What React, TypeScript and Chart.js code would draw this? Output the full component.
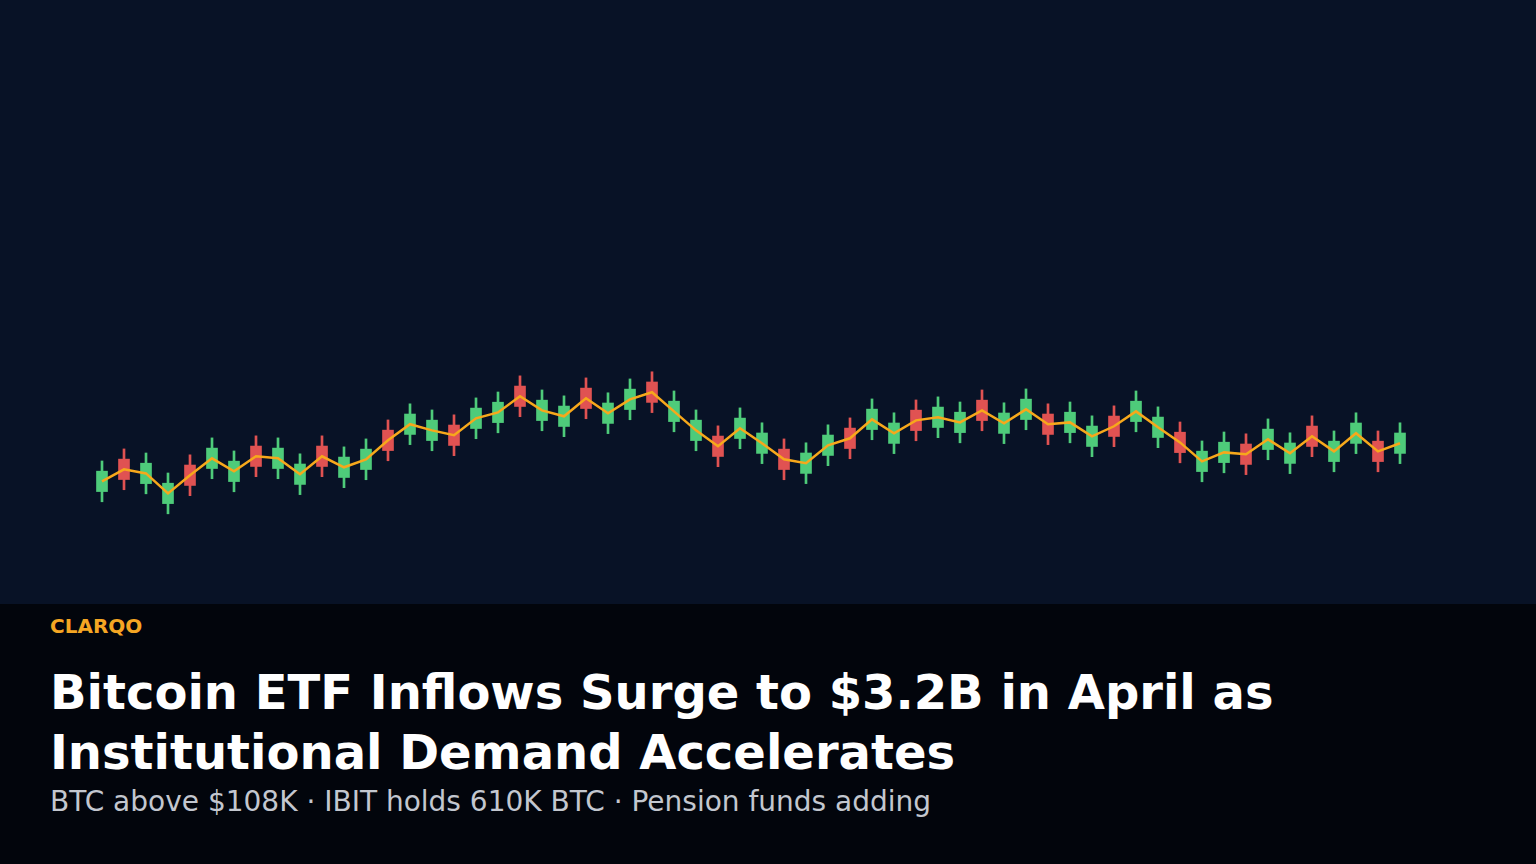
import React, { useEffect, useRef } from "react";
import { Chart, registerables } from "chart.js";

Chart.register(...registerables);

const days: string[] = Array.from({ length: 60 }, (_, i) => `D${i + 1}`);

const opens: number[] = [
  103510, 105100, 103900, 102920, 104810, 104640, 104000, 105740, 104640, 103860,
  105740, 104200, 104590, 106520, 106310, 106010, 106770, 106600, 106890, 108680,
  106990, 106700, 108580, 106850, 107530, 108880, 106940, 106010, 106230, 106110,
  105380, 105590, 104400, 105280, 106620, 106550, 105870, 107500, 106650, 106400,
  107990, 106360, 107040, 107310, 106400, 105720, 107210, 106940, 106160, 106420,
  104490, 104930, 105840, 105570, 104890, 106720, 104980, 105870, 105980, 105380,
];

const closes: number[] = [
  104510, 104100, 104900, 103920, 103810, 105640, 105000, 104740, 105640, 104860,
  104740, 105200, 105590, 105520, 107310, 107010, 105770, 107600, 107890, 107680,
  107990, 107700, 107580, 107850, 108530, 107880, 107940, 107010, 105230, 107110,
  106380, 104590, 105400, 106280, 105620, 107550, 106870, 106500, 107650, 107400,
  106990, 107360, 108040, 106310, 107400, 106720, 106210, 107940, 107160, 105420,
  105490, 105930, 104840, 106570, 105890, 105720, 105980, 106870, 104980, 106380,
];

const highs: number[] = [
  105010, 105600, 105400, 104420, 105310, 106140, 105500, 106240, 106140, 105360,
  106240, 105700, 106090, 107020, 107810, 107510, 107270, 108100, 108390, 109180,
  108490, 108200, 109080, 108350, 109030, 109380, 108440, 107510, 106730, 107610,
  106880, 106090, 105900, 106780, 107120, 108050, 107370, 108000, 108150, 107900,
  108490, 107860, 108540, 107810, 107900, 107220, 107710, 108440, 107660, 106920,
  105990, 106430, 106340, 107070, 106390, 107220, 106480, 107370, 106480, 106880,
];

const lows: number[] = [
  103010, 103600, 103400, 102420, 103310, 104140, 103500, 104240, 104140, 103360,
  104240, 103700, 104090, 105020, 105810, 105510, 105270, 106100, 106390, 107180,
  106490, 106200, 107080, 106350, 107030, 107380, 106440, 105510, 104730, 105610,
  104880, 104090, 103900, 104780, 105120, 106050, 105370, 106000, 106150, 105900,
  106490, 105860, 106540, 105810, 105900, 105220, 105710, 106440, 105660, 104920,
  103990, 104430, 104340, 105070, 104390, 105220, 104480, 105370, 104480, 104880,
];

const UP = "#4ecb7a";
const DOWN = "#e05252";
const LINE = "#f7a81b";

function CandleChart() {
  const ref = useRef<HTMLCanvasElement | null>(null);
  useEffect(() => {
    if (!ref.current) return;
    const colors = opens.map((o, i) => (closes[i] >= o ? UP : DOWN));
    const bodies = opens.map((o, i) => [o, closes[i]]);
    const wicks = lows.map((l, i) => [l, highs[i]]);
    const mids = opens.map((o, i) => (o + closes[i]) / 2);
    const chart = new Chart(ref.current, {
      type: "bar",
      data: {
        labels: days,
        datasets: [
          {
            type: "line",
            data: mids,
            borderColor: LINE,
            borderWidth: 2.5,
            pointRadius: 0,
            tension: 0,
            order: 0,
          } as any,
          {
            type: "bar",
            data: bodies as any,
            backgroundColor: colors,
            borderWidth: 0,
            barThickness: 11,
            grouped: false,
            order: 1,
          } as any,
          {
            type: "bar",
            data: wicks as any,
            backgroundColor: colors,
            borderWidth: 0,
            barThickness: 2,
            grouped: false,
            order: 2,
          } as any,
        ],
      },
      options: {
        animation: false,
        responsive: false,
        maintainAspectRatio: false,
        layout: { padding: { left: 91, right: 125, top: 0, bottom: 0 } },
        plugins: { legend: { display: false }, tooltip: { enabled: false } },
        scales: {
          x: { display: false, offset: true, grid: { display: false } },
          y: { display: false, min: 98000, max: 127600, grid: { display: false } },
        },
      },
    });
    return () => chart.destroy();
  }, []);
  return <canvas ref={ref} width={1536} height={604} style={{ display: "block", width: 1536, height: 604 }} />;
}

export default function App() {
  return (
    <div
      style={{
        position: "fixed",
        left: 0,
        top: 0,
        width: 1536,
        height: 864,
        overflow: "hidden",
        background: "#02050c",
        fontFamily: "'DejaVu Sans', sans-serif",
      }}
    >
      <div style={{ position: "absolute", left: 0, top: 0, width: 1536, height: 604, background: "#081226" }}>
        <CandleChart />
      </div>
      <div
        style={{
          position: "absolute",
          left: 50,
          top: 614,
          fontSize: 20,
          lineHeight: "24px",
          fontWeight: 700,
          color: "#f5a623",
          whiteSpace: "nowrap",
        }}
      >
        CLARQO
      </div>
      <div
        style={{
          position: "absolute",
          left: 50,
          top: 662,
          width: 1436,
          fontSize: 48,
          lineHeight: "60px",
          fontWeight: 700,
          color: "#ffffff",
        }}
      >
        Bitcoin ETF Inflows Surge to $3.2B in April as Institutional Demand Accelerates
      </div>
      <div
        style={{
          position: "absolute",
          left: 50,
          top: 786,
          fontSize: 28,
          lineHeight: "32px",
          color: "#c3c7cf",
          whiteSpace: "nowrap",
        }}
      >
        BTC above $108K · IBIT holds 610K BTC · Pension funds adding
      </div>
    </div>
  );
}
